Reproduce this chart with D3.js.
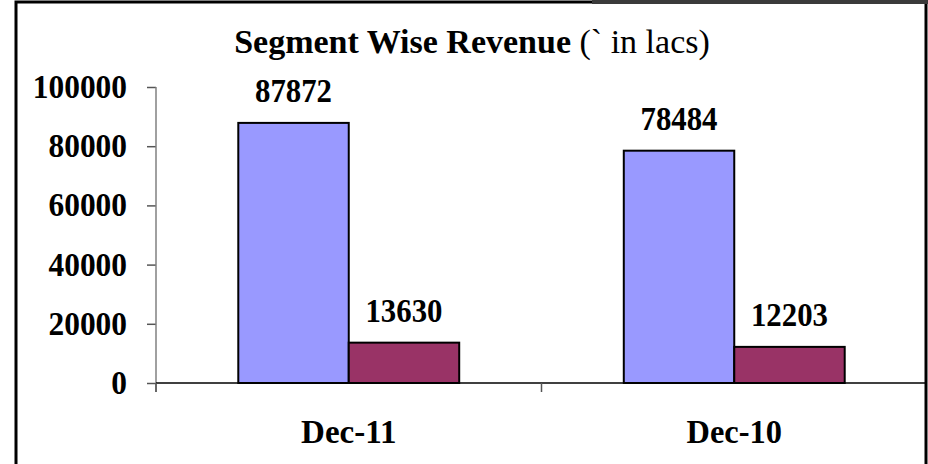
<!DOCTYPE html>
<html>
<head>
<meta charset="utf-8">
<script src="https://cdn.jsdelivr.net/npm/d3@7"></script>
<style>
  body { margin: 0; background: #fff; }
  svg { display: block; }
</style>
</head>
<body>
<div id="chart"></div>
<script>
const categories = ['Dec-11', 'Dec-10']
const series = ['s1', 's2']
const seriesColors = ['#9999ff', '#993366']
const values = [
    [87872, 13630],
    [78484, 12203]
]
const yTicks = [0, 20000, 40000, 60000, 80000, 100000]

const w = 928
const h = 464
const margin = { top: 87, right: 1, bottom: 81, left: 156 }
const font = '"Liberation Serif", "Times New Roman", serif'
const fs = '33px'
// glyphs of the original face are narrow and tall: squeeze to per-char width
const charW = 15.7

const svg = d3.select('#chart').append('svg').attr('width', w).attr('height', h)

// frame
svg.append('rect')
    .attr('x', 16).attr('y', 2)
    .attr('width', 910).attr('height', h + 10)
    .attr('fill', 'none').attr('stroke', '#000').attr('stroke-width', 3)
svg.append('rect')
    .attr('x', 592).attr('y', 0)
    .attr('width', w - 592).attr('height', 4)
    .attr('fill', '#3a3a3a')

const y = d3.scaleLinear().domain([0, 100000]).range([h - margin.bottom, margin.top])
const x0 = d3.scaleBand().domain(categories).range([margin.left, w - margin.right])
const x1 = d3.scaleBand().domain(series).range([0, x0.bandwidth()]).paddingOuter(0.745)

// title
const title = svg.append('text')
    .attr('x', 472).attr('y', 53)
    .attr('text-anchor', 'middle')
    .attr('font-family', font).attr('font-size', '34px')
    .attr('fill', '#000')
title.append('tspan').attr('font-weight', 'bold').text('Segment Wise Revenue')
title.append('tspan').text(' (` in lacs)')

// y axis
const yAxis = svg.append('g')
    .attr('transform', `translate(${margin.left},0)`)
    .call(d3.axisLeft(y).tickValues(yTicks).tickSize(9).tickPadding(20).tickFormat(d3.format('d')))
yAxis.select('.domain').remove()
yAxis.append('line')
    .attr('x1', 0).attr('x2', 0)
    .attr('y1', y(100000)).attr('y2', y(0) + 9)
    .attr('stroke', '#808080').attr('stroke-width', 1.5)
yAxis.selectAll('.tick line').attr('stroke', '#555').attr('stroke-width', 1.5)
yAxis.selectAll('.tick text')
    .attr('font-family', font).attr('font-size', fs).attr('font-weight', 'bold')
    .attr('fill', '#000')
    .attr('textLength', d => String(d).length * charW)
    .attr('lengthAdjust', 'spacingAndGlyphs')

// bars
const groups = svg.selectAll('.grp')
    .data(categories).enter()
    .append('g')
    .attr('transform', d => `translate(${x0(d)},0)`)

groups.selectAll('rect')
    .data((d, i) => values[i].map((v, j) => ({ key: series[j], v, j })))
    .enter().append('rect')
    .attr('x', d => x1(d.key))
    .attr('y', d => y(d.v))
    .attr('width', x1.bandwidth())
    .attr('height', d => y(0) - y(d.v))
    .attr('fill', d => seriesColors[d.j])
    .attr('stroke', '#000').attr('stroke-width', 2)

groups.selectAll('.val')
    .data((d, i) => values[i].map((v, j) => ({ key: series[j], v })))
    .enter().append('text')
    .attr('x', d => x1(d.key) + x1.bandwidth() / 2)
    .attr('y', d => y(d.v) - 21)
    .attr('text-anchor', 'middle')
    .attr('font-family', font).attr('font-size', fs).attr('font-weight', 'bold')
    .attr('fill', '#000')
    .attr('textLength', d => String(d.v).length * 15.4)
    .attr('lengthAdjust', 'spacingAndGlyphs')
    .text(d => d.v)

// x axis
svg.append('line')
    .attr('x1', margin.left).attr('x2', w - margin.right)
    .attr('y1', y(0)).attr('y2', y(0))
    .attr('stroke', '#000').attr('stroke-width', 1.5)
svg.selectAll('.xtick')
    .data(categories).enter()
    .append('line')
    .attr('x1', d => x0(d)).attr('x2', d => x0(d))
    .attr('y1', y(0)).attr('y2', y(0) + 9)
    .attr('stroke', '#555').attr('stroke-width', 1.5)
svg.selectAll('.xlab')
    .data(categories).enter()
    .append('text')
    .attr('x', d => x0(d) + x0.bandwidth() / 2)
    .attr('y', 443)
    .attr('text-anchor', 'middle')
    .attr('font-family', font).attr('font-size', fs).attr('font-weight', 'bold')
    .attr('fill', '#000')
    .attr('textLength', d => d.length * 15.9)
    .attr('lengthAdjust', 'spacingAndGlyphs')
    .text(d => d)
</script>
</body>
</html>
